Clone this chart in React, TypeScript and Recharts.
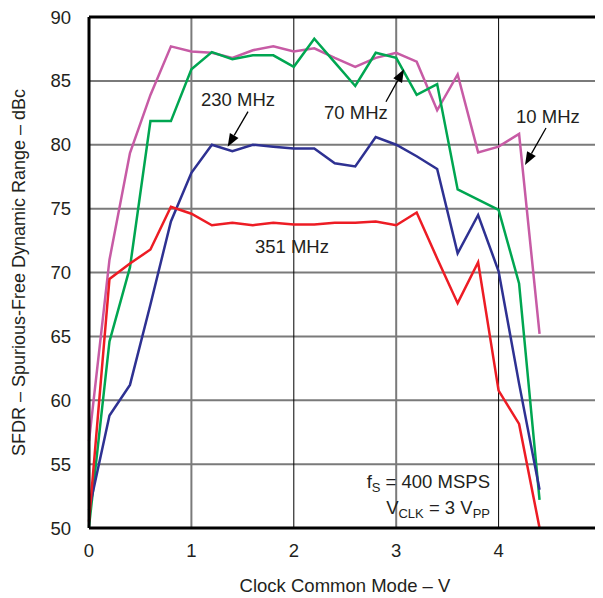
import React from 'react';
import { LineChart, Line, XAxis, YAxis, CartesianGrid, ReferenceLine, ReferenceDot, Label } from 'recharts';

const clockCommonModeV = [0, 0.2, 0.4, 0.6, 0.8, 1.0, 1.2, 1.4, 1.6, 1.8, 2.0, 2.2, 2.4, 2.6, 2.8, 3.0, 3.2, 3.4, 3.6, 3.8, 4.0, 4.2, 4.4];
const sfdr10MHz = [56.8, 71.0, 79.35, 83.9, 87.7, 87.3, 87.2, 86.8, 87.4, 87.7, 87.3, 87.55, 86.8, 86.1, 86.8, 87.2, 86.5, 82.7, 85.5, 79.4, 79.85, 80.85, 65.2];
const sfdr70MHz = [50.1, 64.6, 70.4, 81.85, 81.85, 85.9, 87.25, 86.7, 87.0, 87.0, 86.1, 88.3, 86.45, 84.6, 87.2, 86.8, 83.9, 84.75, 76.5, 75.7, 74.9, 69.15, 52.2];
const sfdr230MHz = [51.4, 58.8, 61.2, 67.5, 74.0, 77.8, 80.0, 79.5, 80.0, 79.85, 79.7, 79.7, 78.55, 78.3, 80.6, 80.0, 79.1, 78.1, 71.5, 74.5, 70.1, 61.3, 53.0];
const sfdr351MHz = [50.5, 69.5, 70.7, 71.8, 75.15, 74.6, 73.7, 73.9, 73.7, 73.9, 73.75, 73.75, 73.9, 73.9, 74.0, 73.7, 74.7, 71.1, 67.6, 70.8, 60.75, 58.15, 50.0];

const xTicks = [0, 1, 2, 3, 4, 5];
const yTicks = [50, 55, 60, 65, 70, 75, 80, 85, 90];
const grayVerticals = [1, 3];
const blackVerticals = [2, 4];

const data = clockCommonModeV.map((x, i) => ({
  x,
  f10: sfdr10MHz[i],
  f70: sfdr70MHz[i],
  f230: sfdr230MHz[i],
  f351: sfdr351MHz[i],
}));

const FONT = '"Liberation Sans", Arial, Helvetica, sans-serif';
const TEXT = '#231F20';
const FS = 18.5;

const arrowShape = (p: any) => {
  const { x1, y1, x2, y2 } = p;
  const dx = x2 - x1;
  const dy = y2 - y1;
  const len = Math.sqrt(dx * dx + dy * dy) || 1;
  const ux = dx / len;
  const uy = dy / len;
  const hl = 13;
  const hw = 5;
  const bx = x2 - ux * hl;
  const by = y2 - uy * hl;
  const pts = `${x2},${y2} ${bx - uy * hw},${by + ux * hw} ${bx + uy * hw},${by - ux * hw}`;
  return (
    <g>
      <line x1={x1} y1={y1} x2={bx} y2={by} stroke="#000" strokeWidth={1.3} />
      <polygon points={pts} fill="#000" />
    </g>
  );
};

const textShape = (txt: string, anchor: string = 'middle') => (p: any) => (
  <text x={p.cx} y={p.cy} textAnchor={anchor} dominantBaseline="central" fontFamily={FONT} fontSize={FS} fill={TEXT}>
    {txt}
  </text>
);

const fsShape = (p: any) => (
  <text x={p.cx} y={p.cy} textAnchor="end" fontFamily={FONT} fontSize={FS} fill={TEXT}>
    <tspan>f</tspan>
    <tspan fontSize={13} dy={4}>S</tspan>
    <tspan dy={-4}> = 400 MSPS</tspan>
  </text>
);

const vclkShape = (p: any) => (
  <text x={p.cx} y={p.cy} textAnchor="end" fontFamily={FONT} fontSize={FS} fill={TEXT}>
    <tspan>V</tspan>
    <tspan fontSize={13} dy={4}>CLK</tspan>
    <tspan dy={-4}> = 3 V</tspan>
    <tspan fontSize={13} dy={4}>PP</tspan>
  </text>
);

export default function App() {
  return (
    <LineChart width={595} height={590} data={data} margin={{ top: 9, right: 2, left: 0, bottom: 0 }}>
      <CartesianGrid vertical={false} stroke="#7a7a7a" strokeWidth={2} />
      {grayVerticals.map((v) => (
        <ReferenceLine key={'g' + v} x={v} stroke="#7a7a7a" strokeWidth={2} />
      ))}
      {blackVerticals.map((v) => (
        <ReferenceLine key={'b' + v} x={v} stroke="#000" strokeWidth={1} />
      ))}
      <XAxis
        dataKey="x"
        type="number"
        domain={[0, 5]}
        ticks={xTicks}
        interval={0}
        axisLine={false}
        tickLine={false}
        tickSize={0}
        tickMargin={16}
        height={70}
        tick={{ fontFamily: FONT, fontSize: FS, fill: TEXT }}
      >
        <Label
          content={(props: any) => {
            const vb = props.viewBox;
            return (
              <text x={vb.x + vb.width / 2} y={vb.y + 57} textAnchor="middle" dominantBaseline="central" fontFamily={FONT} fontSize={FS} fill={TEXT}>
                Clock Common Mode – V
              </text>
            );
          }}
        />
      </XAxis>
      <YAxis
        type="number"
        domain={[50, 90]}
        ticks={yTicks}
        interval={0}
        axisLine={false}
        tickLine={false}
        tickSize={0}
        tickMargin={18}
        width={81}
        tick={{ fontFamily: FONT, fontSize: FS, fill: TEXT }}
      >
        <Label
          content={(props: any) => {
            const vb = props.viewBox;
            const cx = vb.x + 11;
            const cy = vb.y + vb.height / 2;
            return (
              <text x={cx} y={cy} textAnchor="middle" dominantBaseline="central" transform={`rotate(-90 ${cx} ${cy})`} fontFamily={FONT} fontSize={18} fill={TEXT}>
                SFDR – Spurious-Free Dynamic Range – dBc
              </text>
            );
          }}
        />
      </YAxis>
      <Line dataKey="f10" stroke="#C75BA5" strokeWidth={2.5} dot={false} isAnimationActive={false} />
      <Line dataKey="f70" stroke="#00A651" strokeWidth={2.5} dot={false} isAnimationActive={false} />
      <Line dataKey="f230" stroke="#2E3192" strokeWidth={2.5} dot={false} isAnimationActive={false} />
      <Line dataKey="f351" stroke="#ED1C24" strokeWidth={2.5} dot={false} isAnimationActive={false} />
      <ReferenceLine x={0} stroke="#000" strokeWidth={3} />
      <ReferenceLine x={5} stroke="#000" strokeWidth={3} />
      <ReferenceLine y={50} stroke="#000" strokeWidth={3} />
      <ReferenceLine y={90} stroke="#000" strokeWidth={3} />
      <ReferenceLine segment={[{ x: 1.553, y: 82.59 }, { x: 1.354, y: 79.85 }]} shape={arrowShape} />
      <ReferenceLine segment={[{ x: 2.9, y: 83.37 }, { x: 3.076, y: 85.91 }]} shape={arrowShape} />
      <ReferenceLine segment={[{ x: 4.463, y: 81.31 }, { x: 4.258, y: 78.42 }]} shape={arrowShape} />
      <ReferenceDot x={1.455} y={83.58} r={0} shape={textShape('230 MHz')} />
      <ReferenceDot x={2.607} y={82.49} r={0} shape={textShape('70 MHz')} />
      <ReferenceDot x={4.482} y={82.25} r={0} shape={textShape('10 MHz')} />
      <ReferenceDot x={1.982} y={72.07} r={0} shape={textShape('351 MHz')} />
      <ReferenceDot x={3.916} y={53.13} r={0} shape={fsShape} />
      <ReferenceDot x={3.916} y={51.1} r={0} shape={vclkShape} />
    </LineChart>
  );
}
